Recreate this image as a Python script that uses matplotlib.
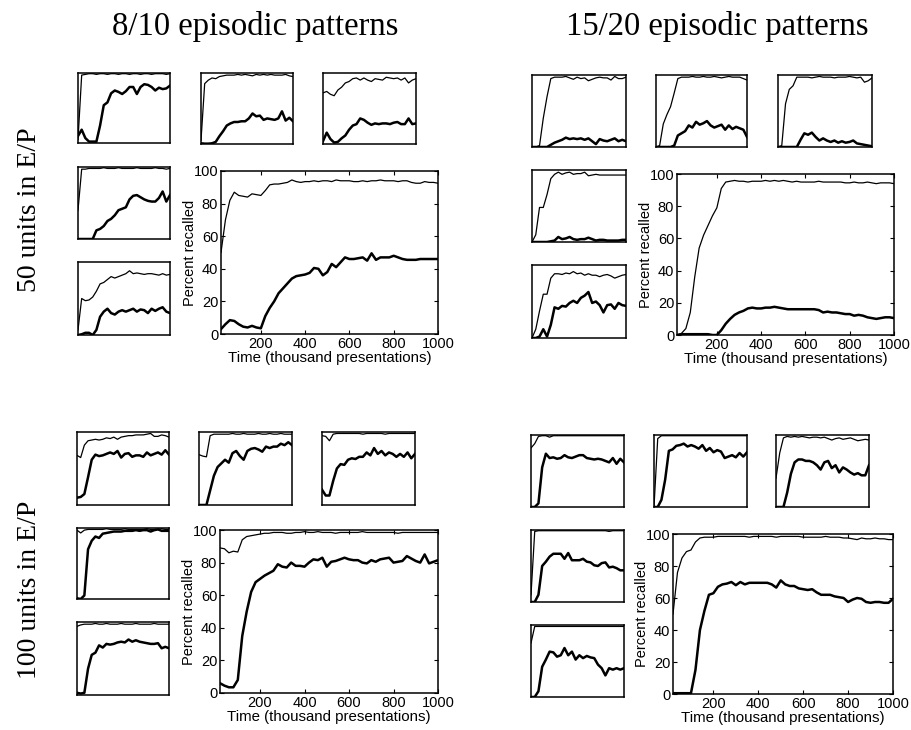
import matplotlib
matplotlib.use("Agg")
import matplotlib.pyplot as plt

# figure size in pixels
W, H = 912, 730

# x positions: big plots sampled every 20k, small plots every 40k presentations
x_big = list(range(20, 1001, 20))
x_small = list(range(0, 1001, 40))

# --- big plots (thin = upper curve, thick = lower curve) ---
big_50_810_thin = [50, 70, 82, 87, 85, 84.5, 84, 86, 85.5, 85, 88, 91.5, 92, 92, 92.5, 93, 94.5, 93.5, 93, 93.5,
                   93.5, 94, 93.5, 94, 94, 93.5, 94.5, 94, 94, 94, 93.5, 93.5, 94, 93.5, 94, 94, 94.5, 94, 94, 94,
                   93.5, 94, 94, 93, 92.5, 92.5, 93.5, 93, 93, 92.5]
big_50_810_thick = [3, 6, 8.5, 8, 6, 4.5, 4, 5, 4, 3.5, 11, 16, 20, 25, 28, 31, 34, 35.5, 36, 36.5,
                    37.5, 40.5, 40, 36, 38, 43, 41, 44, 47, 46, 46, 46.5, 47, 45, 49.5, 45.5, 47, 47, 47, 48,
                    47, 46, 45.5, 45.5, 45.5, 46, 46, 46, 46, 46]
big_50_1520_thin = [0, 1, 4, 14, 36, 54, 62, 68, 74, 79, 91, 95, 95.5, 96, 95.5, 95.5, 95, 95.5, 95.5, 95.5,
                    96, 95.5, 96, 95.5, 96, 95.5, 95, 95.5, 95, 95, 95, 95, 95.5, 95, 95, 95, 95, 95, 94.5, 94.5,
                    95, 94.5, 94.5, 95, 94.5, 94, 94.5, 94.5, 94.5, 94]
big_50_1520_thick = [0, 0.5, 0.5, 0.5, 0.5, 0.5, 0.5, 0.5, 0, 0, 3, 7, 10, 12.5, 14, 15, 16.5, 17, 16.5, 16.5,
                     17, 17, 17.5, 17, 16.5, 16, 16, 16, 16, 16, 16, 16, 15.5, 14, 14.5, 14, 14, 13.5, 13, 13,
                     12, 12.5, 12, 11, 10.5, 10, 10.5, 11, 11, 10.5]
big_100_810_thin = [89, 88.5, 86, 87, 86.5, 94, 96, 96.5, 97, 97.5, 98, 98, 98.5, 98.5, 98.5, 98, 98, 98.5, 98.5, 99,
                    98.5, 98.5, 99, 98.5, 98.5, 98.5, 98, 98.5, 98.5, 98.5, 98.5, 98.5, 99, 98.5, 98.5, 98.5, 98.5,
                    98.5, 98.5, 98.5, 98, 98.5, 98.5, 98.5, 98.5, 98.5, 98.5, 98.5, 98.5, 98.5]
big_100_810_thick = [6, 4.5, 3.5, 3.5, 8, 35, 50, 62, 68, 70, 72, 73.5, 75, 79, 77.5, 77, 80, 78, 78, 77.5,
                     80, 82, 81.5, 83, 77.5, 80.5, 81, 82, 83, 82, 81.5, 81.5, 80, 79.5, 81.5, 80.5, 82, 82.5, 83, 80,
                     80.5, 81, 84, 82.5, 81, 80, 85, 79.5, 80.5, 81.5]
big_100_1520_thin = [50, 76, 85, 89, 90, 95, 97.5, 98, 98, 98, 98.5, 98.5, 98.5, 98.5, 98.5, 98.5, 98.5, 98, 98.5, 98.5,
                     98.5, 98.5, 98.5, 98, 98.5, 98.5, 98.5, 98.5, 98.5, 98, 98, 98, 98, 98, 98.5, 98, 98, 98, 97.5,
                     97.5, 97, 96.5, 97.5, 97, 97, 97.5, 97, 97, 96.5, 96.5]
big_100_1520_thick = [0.5, 0.5, 0.5, 0.5, 0.5, 15, 40, 52, 62, 63, 67, 68.5, 69, 70, 68, 70, 68.5, 69.5, 69.5, 69.5,
                      69.5, 69.5, 68.5, 66.5, 71, 68.5, 67.5, 67.5, 66, 65.5, 65, 65.5, 63.5, 62, 62, 62, 61, 60.5,
                      60, 57.5, 59, 60, 59.5, 57.5, 57, 57.5, 57.5, 57, 57, 59.5]

# --- small plots: 5 per panel (top row left->right, then two below on the left) ---
small_50_810_thin = [
    [5, 97, 98, 99, 99, 98, 99, 99, 98, 99, 99, 98, 99, 99, 98, 99, 99, 98, 99, 99, 98, 99, 99, 99, 98, 99],
    [5, 85, 90, 93, 92, 95, 96, 97, 97, 97, 98, 97, 98, 97, 96, 98, 97, 98, 97, 98, 97, 97, 97, 98, 96, 95],
    [72, 74, 70, 68, 76, 80, 86, 88, 92, 93, 90, 93, 90, 88, 92, 91, 90, 94, 93, 92, 93, 90, 93, 86, 90, 92],
    [40, 97, 97, 98, 98, 98, 98, 99, 98, 98, 98, 99, 98, 98, 98, 98, 99, 98, 98, 98, 98, 99, 98, 98, 97, 98],
    [7, 50, 47, 48, 52, 60, 70, 72, 76, 80, 78, 80, 82, 84, 88, 84, 85, 84, 83, 84, 84, 83, 82, 84, 82, 83],
]
small_50_810_thick = [
    [10, 19, 7, 2, 2, 2, 25, 54, 58, 71, 75, 73, 70, 74, 80, 80, 70, 80, 84, 83, 80, 75, 79, 77, 78, 82],
    [1, 0.5, 0.5, 1, 3, 11, 18, 26, 29, 31, 31, 32, 32, 36, 43, 39, 40, 34, 36, 35, 34, 36, 46, 33, 37, 32],
    [4, 16, 7, 2, 3, 8, 12, 20, 26, 28, 36, 34, 30, 27, 29, 28, 29, 29, 28, 30, 31, 28, 28, 36, 28, 29],
    [0, 0, 0, 0, 0, 12, 14, 18, 25, 28, 33, 40, 42, 44, 55, 60, 61, 58, 55, 53, 52, 52, 57, 66, 52, 61],
    [0, 1, 3, 3, 0, 7, 25, 32, 36, 30, 28, 32, 34, 32, 34, 36, 32, 35, 34, 30, 36, 33, 36, 38, 32, 30],
]
small_50_1520_thin = [
    [0, 0, 2, 40, 70, 95, 97, 97, 97, 98, 96, 94, 97, 95, 96, 92, 94, 96, 97, 96, 96, 93, 98, 95, 95, 97],
    [0, 2, 32, 45, 56, 75, 95, 97, 97, 97, 98, 97, 97, 98, 97, 97, 98, 97, 96, 97, 98, 97, 97, 97, 95, 93],
    [0, 2, 60, 80, 85, 97, 97, 97, 97, 96, 97, 98, 97, 97, 97, 96, 97, 97, 97, 98, 97, 96, 97, 90, 92, 96],
    [0, 10, 48, 48, 66, 88, 94, 97, 94, 96, 97, 94, 95, 95, 97, 92, 93, 94, 93, 93, 93, 93, 93, 93, 93, 93],
    [0, 12, 37, 60, 60, 82, 88, 88, 87, 89, 88, 91, 88, 89, 86, 88, 86, 86, 84, 86, 87, 85, 82, 84, 86, 87],
]
small_50_1520_thick = [
    [0, 0, 0, 0, 0, 3, 6, 8, 10, 13, 11, 12, 11, 12, 10, 12, 8, 4, 11, 9, 8, 10, 12, 8, 10, 8],
    [0, 0, 0, 0, 0, 2, 16, 19, 22, 30, 27, 35, 31, 33, 36, 30, 27, 29, 31, 24, 30, 25, 28, 26, 24, 14],
    [0, 0, 0, 0, 0, 0, 10, 19, 17, 20, 14, 9, 12, 9, 7, 9, 6, 8, 6, 7, 9, 5, 4, 3, 2, 1],
    [0, 0, 0, 0, 0, 1, 2, 7, 4, 5, 7, 4, 3, 4, 4, 6, 4, 2, 3, 3, 2, 2, 2, 2, 3, 3],
    [0, 0, 2, 12, 2, 18, 42, 40, 44, 43, 48, 51, 48, 55, 58, 63, 48, 50, 45, 35, 45, 46, 40, 48, 45, 44],
]
small_100_810_thin = [
    [68, 65, 82, 88, 89, 90, 89, 90, 92, 91, 93, 90, 93, 94, 95, 95, 96, 96, 96, 97, 98, 94, 94, 96, 95, 93],
    [69, 67, 66, 95, 97, 97, 97, 97, 97, 98, 97, 97, 98, 97, 97, 97, 98, 97, 97, 98, 97, 97, 98, 97, 97, 97],
    [95, 94, 88, 97, 98, 98, 98, 98, 98, 98, 98, 97, 98, 98, 98, 98, 98, 97, 98, 98, 98, 98, 98, 98, 98, 98],
    [97, 93, 97, 98, 98, 98, 98, 98, 99, 98, 98, 98, 98, 99, 98, 98, 98, 98, 98, 99, 98, 98, 98, 99, 98, 98],
    [94, 96, 97, 97, 97, 98, 97, 97, 98, 97, 97, 97, 98, 97, 97, 97, 98, 97, 97, 97, 97, 98, 97, 97, 97, 97],
]
small_100_810_thick = [
    [10, 11, 15, 38, 62, 69, 67, 68, 70, 72, 70, 74, 65, 70, 71, 66, 68, 68, 66, 72, 68, 70, 72, 69, 75, 69],
    [0, 0, 0, 20, 40, 52, 57, 62, 58, 71, 74, 67, 62, 74, 77, 78, 76, 73, 80, 78, 80, 80, 84, 82, 86, 82],
    [21, 13, 13, 33, 50, 56, 55, 62, 64, 63, 66, 66, 72, 68, 78, 70, 74, 68, 72, 70, 66, 70, 66, 72, 64, 70],
    [1, 0, 5, 70, 82, 88, 86, 92, 93, 94, 95, 95, 95, 96, 96, 96, 97, 96, 97, 97, 95, 97, 98, 96, 96, 96],
    [3, 2, 3, 36, 55, 58, 68, 65, 70, 69, 70, 72, 73, 72, 76, 73, 75, 73, 72, 71, 70, 70, 71, 64, 66, 64],
]
small_100_1520_thin = [
    [82, 88, 98, 99, 99, 97, 99, 99, 99, 99, 99, 99, 99, 99, 99, 99, 99, 99, 99, 99, 99, 99, 99, 99, 99, 99],
    [0, 95, 99, 99, 99, 99, 99, 99, 99, 99, 99, 99, 99, 99, 99, 99, 99, 99, 99, 99, 99, 99, 99, 99, 99, 99],
    [40, 75, 96, 98, 97, 98, 97, 98, 97, 96, 97, 97, 96, 97, 95, 93, 95, 96, 94, 95, 96, 94, 92, 93, 94, 93],
    [10, 98, 99, 99, 99, 99, 99, 99, 99, 99, 99, 99, 99, 99, 99, 99, 99, 99, 99, 99, 99, 98, 99, 99, 99, 99],
    [75, 98, 98, 98, 98, 98, 98, 98, 98, 98, 98, 98, 98, 98, 98, 98, 98, 98, 98, 98, 98, 98, 98, 98, 98, 98],
]
small_100_1520_thick = [
    [0, 0, 5, 55, 74, 68, 69, 67, 68, 72, 69, 68, 70, 72, 72, 68, 67, 66, 67, 66, 64, 62, 68, 60, 67, 62],
    [0, 0, 10, 38, 78, 80, 85, 86, 88, 84, 86, 84, 81, 86, 78, 82, 76, 79, 77, 68, 70, 72, 69, 75, 70, 76],
    [0, 0, 0, 20, 46, 62, 66, 66, 64, 64, 62, 58, 52, 62, 64, 54, 58, 48, 55, 52, 48, 45, 47, 44, 44, 58],
    [0, 0, 10, 50, 56, 63, 67, 67, 67, 60, 68, 58, 58, 58, 60, 56, 55, 51, 50, 54, 55, 48, 49, 47, 44, 44],
    [0, 0, 8, 42, 52, 63, 62, 56, 58, 68, 58, 63, 52, 58, 54, 57, 55, 54, 45, 40, 30, 40, 38, 40, 38, 40],
]

col_titles = ["8/10 episodic patterns", "15/20 episodic patterns"]
row_titles = ["50 units in E/P", "100 units in E/P"]

panels = [
    {"small": [(78, 73, 170, 143), (201, 73, 293, 144), (323, 73, 416, 144), (78, 167, 170, 239), (78, 262, 170, 335)],
     "big": (221, 171, 438, 334), "thin": small_50_810_thin, "thick": small_50_810_thick,
     "big_thin": big_50_810_thin, "big_thick": big_50_810_thick},
    {"small": [(532, 75, 626, 147), (656, 75, 747, 147), (778, 75, 872, 147), (532, 170, 626, 242), (532, 265, 626, 338)],
     "big": (677, 174, 894, 335), "thin": small_50_1520_thin, "thick": small_50_1520_thick,
     "big_thin": big_50_1520_thin, "big_thick": big_50_1520_thick},
    {"small": [(77, 432, 169, 505), (199, 432, 292, 505), (322, 432, 415, 505), (77, 528, 169, 599), (77, 622, 169, 695)],
     "big": (220, 530, 438, 693), "thin": small_100_810_thin, "thick": small_100_810_thick,
     "big_thin": big_100_810_thin, "big_thick": big_100_810_thick},
    {"small": [(531, 435, 624, 507), (654, 435, 747, 507), (776, 435, 869, 507), (531, 530, 624, 602), (531, 625, 624, 697)],
     "big": (673, 534, 893, 694), "thin": small_100_1520_thin, "thick": small_100_1520_thick,
     "big_thin": big_100_1520_thin, "big_thick": big_100_1520_thick},
]

SANS = ["Liberation Sans", "DejaVu Sans"]
SERIF = ["Liberation Serif", "DejaVu Serif"]


def px_axes(fig, b):
    x0, y0, x1, y1 = b
    return fig.add_axes([x0 / W, 1 - y1 / H, (x1 - x0) / W, (y1 - y0) / H])


fig = plt.figure(figsize=(W / 100, H / 100), dpi=100)

for p in panels:
    # small thumbnails, no ticks
    for b, thin, thick in zip(p["small"], p["thin"], p["thick"]):
        ax = px_axes(fig, b)
        ax.plot(x_small, thin, color="black", lw=0.9)
        ax.plot(x_small, thick, color="black", lw=1.8)
        ax.set_xlim(0, 1000)
        ax.set_ylim(0, 100)
        ax.set_xticks([])
        ax.set_yticks([])
        for s in ax.spines.values():
            s.set_linewidth(1.1)

    # main plot
    ax = px_axes(fig, p["big"])
    ax.plot(x_big, p["big_thin"], color="black", lw=0.9)
    ax.plot(x_big, p["big_thick"], color="black", lw=1.8)
    ax.set_xlim(20, 1000)
    ax.set_ylim(0, 100)
    ax.set_xticks([200, 400, 600, 800, 1000])
    ax.set_yticks([0, 20, 40, 60, 80, 100])
    ax.tick_params(direction="in", top=True, right=True, length=3, width=0.8, labelsize=10.5, pad=2)
    for lab in ax.get_xticklabels() + ax.get_yticklabels():
        lab.set_family(SANS)
    ax.set_ylabel("Percent recalled", family=SANS, fontsize=10.5, labelpad=-2.5)
    ax.set_xlabel("Time (thousand presentations)", family=SANS, fontsize=10.8, labelpad=0)
    for s in ax.spines.values():
        s.set_linewidth(1.1)

# column and row headings
fig.text(255 / W, 1 - 26 / H, col_titles[0], family=SERIF, fontsize=23.5, ha="center", va="center")
fig.text(717 / W, 1 - 26 / H, col_titles[1], family=SERIF, fontsize=23.5, ha="center", va="center")
fig.text(30 / W, 1 - 210 / H, row_titles[0], family=SERIF, fontsize=20, ha="center", va="center", rotation=90)
fig.text(30 / W, 1 - 590 / H, row_titles[1], family=SERIF, fontsize=20, ha="center", va="center", rotation=90)

fig.savefig("out.png", dpi=100)
